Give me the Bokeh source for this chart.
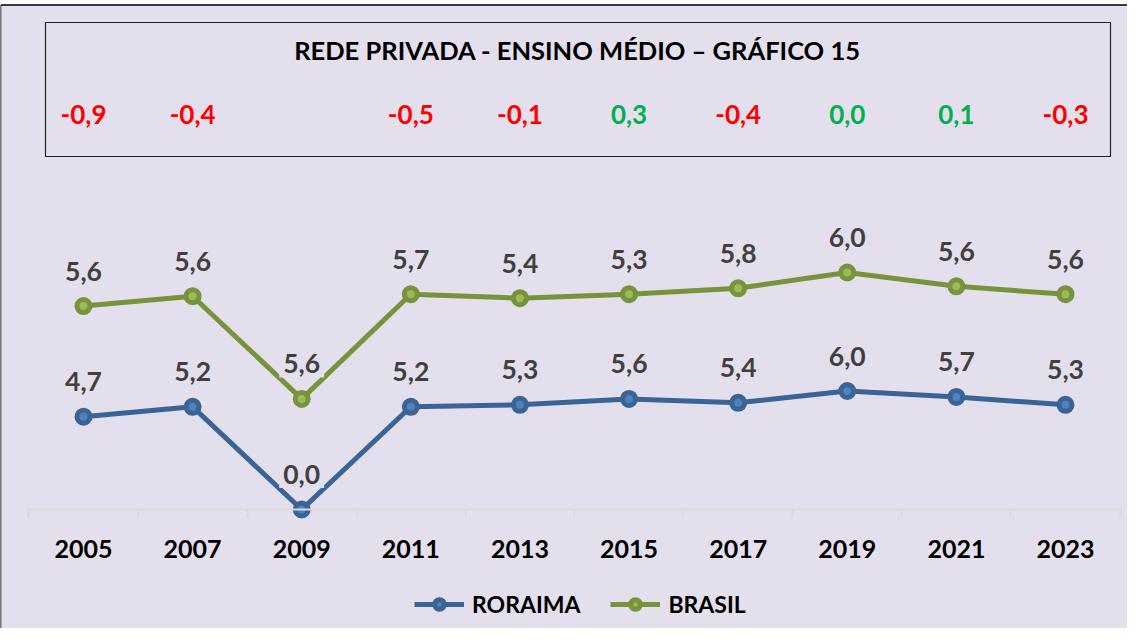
from bokeh.plotting import figure
from bokeh.models import (ColumnDataSource, Range1d, FixedTicker, LinearAxis, Legend, LegendItem)
from bokeh.core.properties import value
from bokeh.embed import file_html
from bokeh.resources import INLINE

# ---- data ----
years = ["2005", "2007", "2009", "2011", "2013", "2015", "2017", "2019", "2021", "2023"]
roraima = [4.7, 5.2, 0.0, 5.2, 5.3, 5.6, 5.4, 6.0, 5.7, 5.3]
brasil = [5.6, 5.6, 5.6, 5.7, 5.4, 5.3, 5.8, 6.0, 5.6, 5.6]
title_text = "REDE PRIVADA - ENSINO MÉDIO – GRÁFICO 15"
series_names = ["RORAIMA", "BRASIL"]

def fmt(v):
    return f"{v:.1f}".replace(".", ",").replace("-0,0", "0,0")

xi = list(range(len(years)))
stack_b = [r + b for r, b in zip(roraima, brasil)]
diffs = [("" if r == 0 else fmt(round(r - b, 1))) for r, b in zip(roraima, brasil)]
diff_colors = ["#FF0000" if (r - b) < -1e-9 else "#00B050" for r, b in zip(roraima, brasil)]

# ---- layout ----
W, H = 1127, 628
BG = "#E4DFEC"
XS = 109.11          # px per category
X0 = 83.0            # canvas px of first category
YS = 19.75           # px per unit
AXIS_PX = 509.0      # canvas px of y=0
FRAME_H = H
x_start = -X0 / XS
x_end = x_start + W / XS
y_start = -(FRAME_H - AXIS_PX) / YS
y_end = y_start + FRAME_H / YS

def px_x(cx):
    return x_start + cx / XS

def px_y(cy):
    return (AXIS_PX - cy) / YS

FONT = "Lato"

p = figure(width=W, height=H, output_backend="svg", toolbar_location=None,
           x_range=Range1d(x_start, x_end), y_range=Range1d(y_start, y_end),
           x_axis_location=None, y_axis_location=None,
           min_border_left=0, min_border_right=0, min_border_top=0,
           min_border_bottom=0)
p.background_fill_color = BG
p.border_fill_color = BG
p.outline_line_color = None
p.xgrid.visible = False
p.ygrid.visible = False

# outer frame: white strip on top, black lines
p.quad(left=[px_x(-5)], right=[px_x(W + 5)], top=[px_y(-5)], bottom=[px_y(4)],
       fill_color="white", line_color=None)
p.segment(x0=[px_x(0.5), px_x(0)], y0=[px_y(4.5), px_y(4.5)],
          x1=[px_x(W + 5), px_x(0)], y1=[px_y(4.5), px_y(FRAME_H + 5)],
          line_color="black", line_width=1.5)

# title box
p.quad(left=[px_x(45)], right=[px_x(1110)], top=[px_y(22)], bottom=[px_y(156)],
       fill_color=None, line_color="#222222", line_width=1.2)
p.text(x=[px_x(577)], y=[px_y(49)], text=[title_text], text_font=value(FONT),
       text_font_style="bold", text_font_size="25.5px", text_color="black",
       text_align="center", text_baseline="middle")

# diff labels
dsrc = ColumnDataSource(dict(x=xi, y=[px_y(114)] * len(xi), t=diffs, c=diff_colors))
p.text(x="x", y="y", text="t", text_color="c", source=dsrc, text_font=value(FONT),
       text_font_style="bold", text_font_size="26px", text_align="center",
       text_baseline="middle")

# x axis
xaxis = LinearAxis(fixed_location=0)
xaxis.ticker = FixedTicker(ticks=xi, minor_ticks=[i - 0.5 for i in xi] + [xi[-1] + 0.5])
xaxis.major_label_overrides = {i: y for i, y in zip(xi, years)}
xaxis.bounds = (-0.5, xi[-1] + 0.5)
xaxis.axis_line_color = "#D9D9D9"
xaxis.axis_line_width = 2
xaxis.major_tick_line_color = None
xaxis.major_tick_out = 0
xaxis.major_tick_in = 0
xaxis.minor_tick_line_color = "#D9D9D9"
xaxis.minor_tick_line_width = 2
xaxis.minor_tick_out = 8
xaxis.minor_tick_in = 0
xaxis.major_label_standoff = 22
xaxis.major_label_text_font = FONT
xaxis.major_label_text_font_style = "bold"
xaxis.major_label_text_font_size = "25px"
xaxis.major_label_text_color = "black"
p.add_layout(xaxis, "below")

# series
BLUE_L, BLUE_F = "#3A6396", "#4F81BD"
GREEN_L, GREEN_F = "#77933C", "#9BBB59"
src = ColumnDataSource(dict(x=xi, r=roraima, b=stack_b,
                            rl=[fmt(v) for v in roraima], bl=[fmt(v) for v in brasil]))
lr = p.line("x", "r", source=src, line_color=BLUE_L, line_width=5)
sr = p.scatter("x", "r", source=src, size=13, line_color=BLUE_L, line_width=5, fill_color=BLUE_F)
lb = p.line("x", "b", source=src, line_color=GREEN_L, line_width=5)
sb = p.scatter("x", "b", source=src, size=13, line_color=GREEN_L, line_width=5, fill_color=GREEN_F)

for col, ycol in (("rl", "r"), ("bl", "b")):
    p.text(x="x", y=ycol, text=col, source=src, text_font=value(FONT),
           text_font_style="bold", text_font_size="26.5px", text_color="#404040",
           text_align="center", text_baseline="middle", y_offset=-35,
           background_fill_color=BG, padding=4)

legend = Legend(items=[LegendItem(label=series_names[0], renderers=[lr, sr]),
                       LegendItem(label=series_names[1], renderers=[lb, sb])],
                orientation="horizontal", location=(414, 10))
legend.background_fill_alpha = 0
legend.border_line_color = None
legend.label_text_font = FONT
legend.label_text_font_style = "bold"
legend.label_text_font_size = "23px"
legend.label_text_color = "black"
legend.glyph_width = 50
legend.glyph_height = 24
legend.label_standoff = 8
legend.spacing = 30
legend.margin = 0
legend.padding = 5
p.add_layout(legend)

open("out.html", "w").write(file_html(p, INLINE))
